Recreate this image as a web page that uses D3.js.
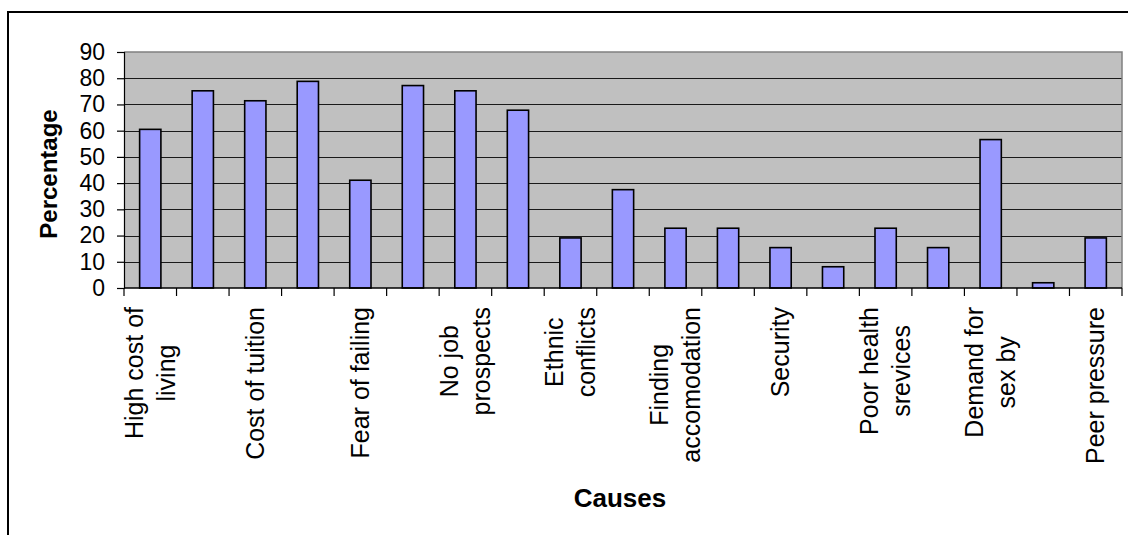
<!DOCTYPE html>
<html>
<head>
<meta charset="utf-8">
<script src="https://cdn.jsdelivr.net/npm/d3@7"></script>
<style>
  html, body { margin: 0; padding: 0; background: #fff; }
  svg { display: block; font-family: "Liberation Sans", Arial, sans-serif; }
</style>
</head>
<body>
<svg id="chart" width="1128" height="535"></svg>
<script>
// Categories (only every other label is shown on the original axis)
const categories = [
  "High cost of\nliving", "", "Cost of tuition", "", "Fear of failing", "",
  "No job\nprospects", "", "Ethnic\nconflicts", "", "Finding\naccomodation", "",
  "Security", "", "Poor health\nsrevices", "", "Demand for\nsex by", "", "Peer pressure"
];
const values = [60.5, 75.2, 71.4, 78.8, 41.1, 77.2, 75.2, 67.8, 19.1, 37.5,
                22.8, 22.8, 15.4, 8.1, 22.8, 15.4, 56.6, 2.0, 19.1];
const yTicks = [0, 10, 20, 30, 40, 50, 60, 70, 80, 90];
const yTitle = "Percentage";
const xTitle = "Causes";

const svg = d3.select("#chart");
const W = 1128, H = 535;
const plot = { left: 124, right: 1122, top: 52, bottom: 288 };

// outer chart border
svg.append("rect")
  .attr("x", 8).attr("y", 12)
  .attr("width", W + 20).attr("height", H + 20)
  .attr("fill", "#fff").attr("stroke", "#000").attr("stroke-width", 2);

const n = categories.length;
const x = d3.scaleBand()
  .domain(d3.range(n))
  .range([plot.left, plot.right])
  .paddingInner(0.595)
  .paddingOuter(0.2975);
const step = (plot.right - plot.left) / n;

const y = d3.scaleLinear().domain([0, 90]).range([plot.bottom, plot.top]);

// plot background
svg.append("rect")
  .attr("x", plot.left).attr("y", plot.top)
  .attr("width", plot.right - plot.left).attr("height", plot.bottom - plot.top)
  .attr("fill", "#C0C0C0");

// gridlines
svg.append("g")
  .selectAll("line")
  .data(yTicks.filter(t => t > 0 && t < 90))
  .join("line")
  .attr("x1", plot.left).attr("x2", plot.right)
  .attr("y1", d => Math.round(y(d)) + 0.5).attr("y2", d => Math.round(y(d)) + 0.5)
  .attr("stroke", "#1a1a1a").attr("stroke-width", 1);

// plot border top and right (gray)
svg.append("path")
  .attr("d", `M${plot.left},${plot.top}H${plot.right}V${plot.bottom}`)
  .attr("fill", "none").attr("stroke", "#808080").attr("stroke-width", 1.5);

// bars
svg.append("g")
  .selectAll("rect")
  .data(values)
  .join("rect")
  .attr("x", (d, i) => x(i))
  .attr("y", d => y(d))
  .attr("width", x.bandwidth())
  .attr("height", d => y(0) - y(d))
  .attr("fill", "#9999FF")
  .attr("stroke", "#000")
  .attr("stroke-width", 1.6);

// y axis
const yAxis = d3.axisLeft(y).tickValues(yTicks).tickSize(7).tickPadding(12);
const gy = svg.append("g")
  .attr("transform", `translate(${plot.left},0)`)
  .call(yAxis);
gy.select(".domain").attr("stroke", "#000").attr("stroke-width", 1.2);
gy.selectAll(".tick line").attr("stroke", "#000").attr("stroke-width", 1.2);
gy.selectAll(".tick text")
  .attr("font-size", 23).attr("fill", "#000")
  .attr("font-family", "'Liberation Sans', Arial, sans-serif");

// x axis: line plus ticks at band boundaries
const gx = svg.append("g");
gx.append("line")
  .attr("x1", plot.left).attr("x2", plot.right)
  .attr("y1", plot.bottom).attr("y2", plot.bottom)
  .attr("stroke", "#000").attr("stroke-width", 1.5);
gx.selectAll("line.tk")
  .data(d3.range(n + 1))
  .join("line")
  .attr("class", "tk")
  .attr("x1", i => (i < n ? x(i) - x.step() * x.paddingInner() / 2 : plot.right))
  .attr("x2", i => (i < n ? x(i) - x.step() * x.paddingInner() / 2 : plot.right))
  .attr("y1", plot.bottom).attr("y2", plot.bottom + 8)
  .attr("stroke", "#000").attr("stroke-width", 1.2);

// x tick labels, rotated, lines centered, block top anchored
const fs = 25, lineH = 32, labelTop = 307;
categories.forEach((lab, i) => {
  if (!lab) return;
  const lines = lab.split("\n");
  const cx = x(i) + x.bandwidth() / 2;
  const g = svg.append("g");
  const texts = lines.map((ln, j) => g.append("text")
    .attr("font-size", fs).attr("fill", "#000")
    .attr("text-anchor", "middle")
    .text(ln));
  const maxW = d3.max(texts, t => t.node().getComputedTextLength());
  const cy = labelTop + maxW / 2;
  const k = lines.length;
  texts.forEach((t, j) => {
    const bx = cx + 0.3465 * fs + lineH * (j - (k - 1) / 2);
    t.attr("transform", `translate(${bx},${cy}) rotate(-90)`);
  });
});

// axis titles
svg.append("text")
  .attr("transform", `translate(57,174) rotate(-90)`)
  .attr("text-anchor", "middle")
  .attr("font-size", 24).attr("font-weight", "bold")
  .text(yTitle);

svg.append("text")
  .attr("x", 620).attr("y", 507)
  .attr("text-anchor", "middle")
  .attr("font-size", 26).attr("font-weight", "bold")
  .text(xTitle);
</script>
</body>
</html>
